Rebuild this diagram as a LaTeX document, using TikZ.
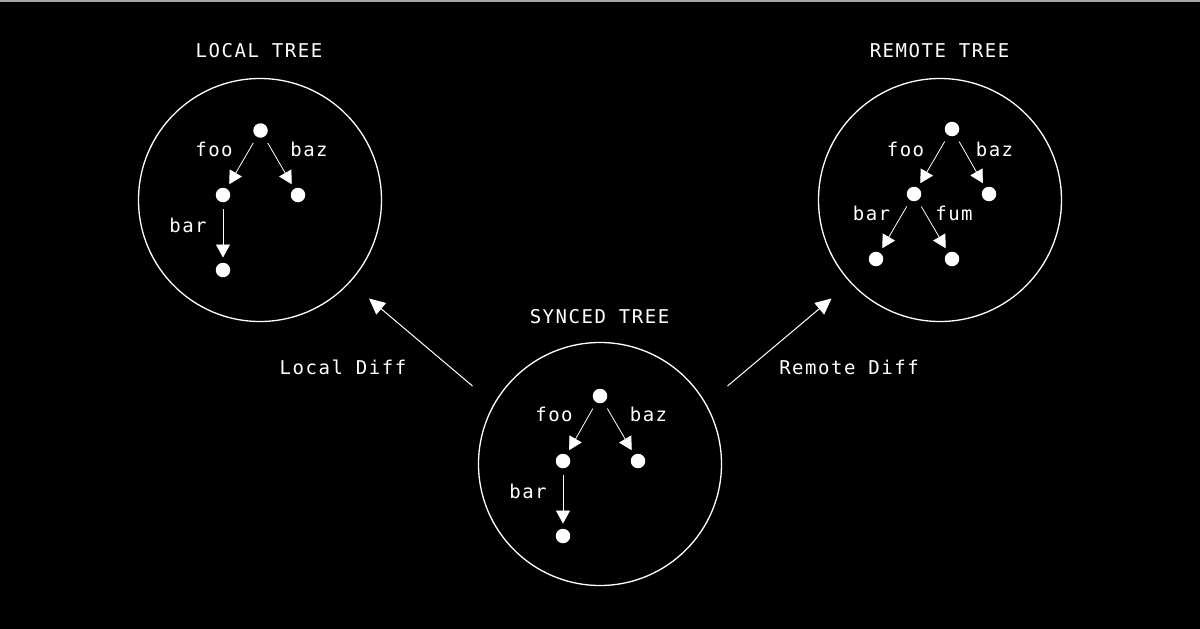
\documentclass[tikz,border=0pt]{standalone}
\usepackage{fontspec}
\setmonofont[LetterSpace=8]{DejaVu Sans Mono}
\usetikzlibrary{arrows.meta}
\begin{document}
\begin{tikzpicture}[x=1pt,y=-1pt,
  dot/.style={circle,fill=white,inner sep=0pt,minimum size=14.5pt},
  ring/.style={circle,draw=white,line width=1.3pt,minimum size=243pt,inner sep=0pt},
  edge/.style={draw=white,line width=0.8pt,-{Triangle[length=13pt,width=14pt]},shorten <=7pt,shorten >=5pt},
  lbl/.style={text=white,font=\ttfamily\fontsize{19}{19}\selectfont,anchor=base,inner sep=0pt},
  big/.style={draw=white,line width=1pt,-{Triangle[length=16pt,width=15pt]}}]
\fill[black] (0,0) rectangle (1200,629);
\useasboundingbox (0,0) rectangle (1200,629);
\fill[gray!70] (0,0) rectangle (1200,1.5);

% Local tree
\node[ring] (lring) at (260,200) {};
\node[lbl] (ltitle) at (259,57.5) {LOCAL TREE};
\node[dot] (L0) at (260.5,130.5) {};
\node[dot] (L1) at (223,195) {};
\node[dot] (L2) at (298,195) {};
\node[dot] (L3) at (223,270) {};
\draw[edge] (L0) -- (L1);
\draw[edge] (L0) -- (L2);
\draw[edge] (L1) -- (L3);
\node[lbl] (lfoo) at (214,156.5) {foo};
\node[lbl] (lbaz) at (309,156.5) {baz};
\node[lbl] (lbar) at (188,232.5) {bar};

% Remote tree
\node[ring] (rring) at (940,200) {};
\node[lbl] (rtitle) at (939.5,57.5) {REMOTE TREE};
\node[dot] (R0) at (952,129) {};
\node[dot] (R1) at (914,194) {};
\node[dot] (R2) at (989,194) {};
\node[dot] (R3) at (876,259) {};
\node[dot] (R4) at (952,259) {};
\draw[edge] (R0) -- (R1);
\draw[edge] (R0) -- (R2);
\draw[edge] (R1) -- (R3);
\draw[edge] (R1) -- (R4);
\node[lbl] (rfoo) at (905.5,156.5) {foo};
\node[lbl] (rbaz) at (994.5,156.5) {baz};
\node[lbl] (rbar) at (871.5,220) {bar};
\node[lbl] (rfum) at (954,220) {fum};

% Synced tree
\node[ring] (sring) at (600,464) {};
\node[lbl] (stitle) at (599.5,323) {SYNCED TREE};
\node[dot] (S0) at (600,396) {};
\node[dot] (S1) at (563,461) {};
\node[dot] (S2) at (638,461) {};
\node[dot] (S3) at (563,536) {};
\draw[edge] (S0) -- (S1);
\draw[edge] (S0) -- (S2);
\draw[edge] (S1) -- (S3);
\node[lbl] (sfoo) at (554,421.5) {foo};
\node[lbl] (sbaz) at (648.5,421.5) {baz};
\node[lbl] (sbar) at (528,498) {bar};

% Diff arrows
\coordinate (lda) at (472.5,386);
\coordinate (ldb) at (369,298.5);
\coordinate (rda) at (727.5,386);
\coordinate (rdb) at (831.5,298.5);
\draw[big] (lda) -- (ldb);
\draw[big] (rda) -- (rdb);
\node[lbl] (ldiff) at (343,374) {Local Diff};
\node[lbl] (rdiff) at (849,374) {Remote Diff};
\end{tikzpicture}
\end{document}
